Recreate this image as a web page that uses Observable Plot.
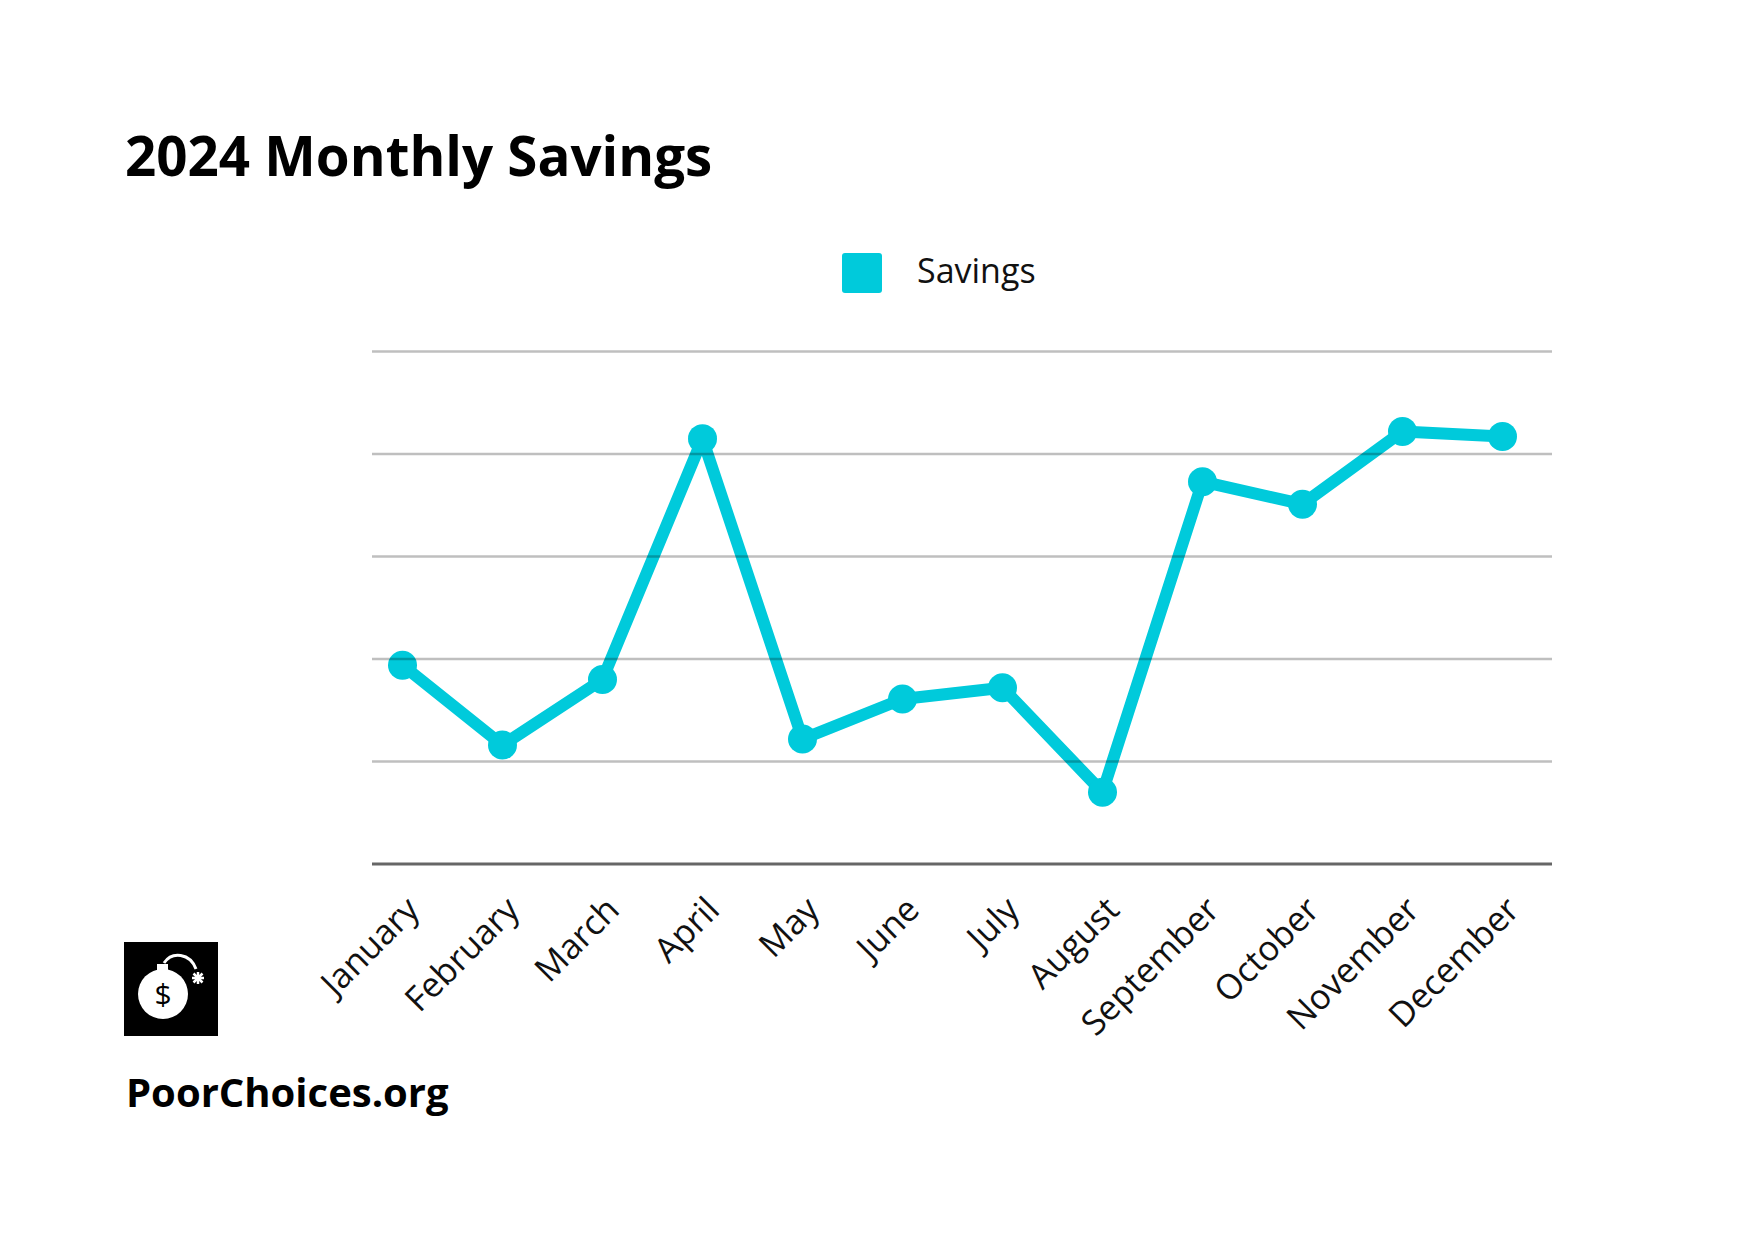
<!DOCTYPE html>
<html>
<head>
<meta charset="utf-8">
<script src="https://cdn.jsdelivr.net/npm/d3@7"></script>
<script src="https://cdn.jsdelivr.net/npm/@observablehq/plot@0.6"></script>
<style>
  html, body { margin: 0; padding: 0; background: #fff; }
  #page { position: relative; width: 1748px; height: 1240px; background: #fff; font-family: "Open Sans", sans-serif; overflow: hidden; }
  #title { position: absolute; left: 125px; top: 128px; font-size: 54.7px; font-weight: 700; color: #000; white-space: nowrap; line-height: 1; }
  #legend { position: absolute; left: 842px; top: 253px; display: flex; align-items: center; height: 40px; }
  #legend .sw { width: 40px; height: 40px; border-radius: 3px; background: #00cadb; }
  #legend .lb { margin-left: 35px; font-size: 34px; color: #111; line-height: 1; position: relative; top: -3px; }
  #chart { position: absolute; left: 0; top: 320px; }
  #logo { position: absolute; left: 124px; top: 942px; width: 94px; height: 94px; }
  #footer { position: absolute; left: 126px; top: 1072px; font-size: 40px; font-weight: 700; color: #000; white-space: nowrap; line-height: 1; }
</style>
</head>
<body>
<div id="page">
  <div id="title">2024 Monthly Savings</div>
  <div id="legend"><div class="sw"></div><div class="lb">Savings</div></div>
  <div id="chart"></div>
  <svg id="logo" viewBox="0 0 94 94" xmlns="http://www.w3.org/2000/svg">
    <rect x="0" y="0" width="94" height="94" fill="#000"/>
    <circle cx="39" cy="52" r="25" fill="#fff"/>
    <rect x="33" y="22" width="11" height="6" fill="#fff"/>
    <path d="M40 21 C48 9, 66 11, 72 27" fill="none" stroke="#fff" stroke-width="3"/>
    <g stroke="#fff" stroke-width="2.5" transform="translate(74,36)">
      <line x1="-6" y1="0" x2="6" y2="0"/>
      <line x1="0" y1="-6" x2="0" y2="6"/>
      <line x1="-4.5" y1="-4.5" x2="4.5" y2="4.5"/>
      <line x1="-4.5" y1="4.5" x2="4.5" y2="-4.5"/>
    </g>
    <text x="39" y="63" text-anchor="middle" font-family="Open Sans, sans-serif" font-size="30" fill="#000">$</text>
  </svg>
  <div id="footer">PoorChoices.org</div>
</div>
<script>
// Data
const months = ["January","February","March","April","May","June","July","August","September","October","November","December"];
const savings = [19.4, 11.6, 18.0, 41.5, 12.2, 16.1, 17.2, 7.0, 37.3, 35.1, 42.2, 41.7];
const gridTicks = [10, 20, 30, 40, 50];
const baseTick = [0];
const seriesName = "Savings";
const color = "#00cadb";

const data = months.map((m, i) => ({month: m, value: savings[i], series: seriesName}));

const chart = Plot.plot({
  width: 1748,
  height: 800,
  marginLeft: 372,
  marginRight: 196,
  marginTop: 31,
  marginBottom: 256.5,
  style: {background: "transparent", fontFamily: "Open Sans, sans-serif", overflow: "visible"},
  x: {type: "point", domain: months, range: [402, 1502], padding: 0, axis: null},
  y: {domain: [0, 50], axis: null},
  marks: [
    Plot.line(data, {x: "month", y: "value", stroke: color, strokeWidth: 12, strokeLinejoin: "round", strokeLinecap: "round"}),
    Plot.dot(data, {x: "month", y: "value", r: 14.5, fill: color, stroke: "none"}),
    Plot.ruleY(gridTicks, {stroke: "#000", strokeOpacity: 0.25, strokeWidth: 2.5}),
    Plot.ruleY(baseTick, {stroke: "#666", strokeWidth: 3}),
    Plot.axisX({tickRotate: -45, tickSize: 0, tickPadding: 40, fontSize: 34.5, fill: "#111", dx: 11, dy: 0, label: null})
  ]
});
document.getElementById("chart").appendChild(chart);
</script>
</body>
</html>
